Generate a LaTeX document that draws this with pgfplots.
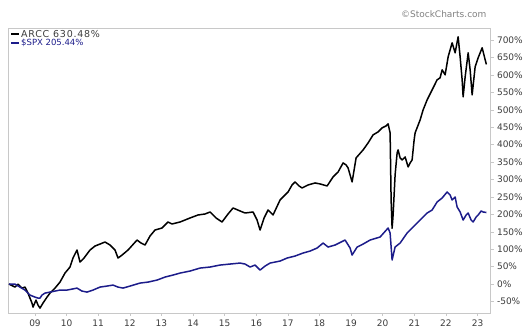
\documentclass[border=0pt]{standalone}
\usepackage{pgfplots}
\pgfplotsset{compat=1.18}
\usepackage{fontspec}
\setmainfont{DejaVu Sans}
\definecolor{spx}{RGB}{28,28,138}
\definecolor{tickgray}{RGB}{60,60,60}
\definecolor{framegray}{RGB}{200,200,200}
\begin{document}
\begin{tikzpicture}[x=1pt,y=1pt]
\path[use as bounding box] (0,0) rectangle (525,331);
\node[anchor=east, text=gray, font=\fontsize{9}{10}\selectfont] at (490,317) {\copyright StockCharts.com};
\begin{axis}[
  at={(8pt,18pt)}, anchor=south west, scale only axis,
  width=482.5pt, height=285pt,
  xmin=2008.146, xmax=2023.41, ymin=-83, ymax=735,
  axis line style={framegray, line width=0.8pt},
  tick style={framegray, line width=0.6pt},
  tick align=outside, major tick length=3pt,
  xtick pos=left, ytick pos=right, yticklabel pos=right,
  xtick={2009,2010,...,2023},
  xticklabels={09,10,11,12,13,14,15,16,17,18,19,20,21,22,23},
  ytick={-50,0,50,100,150,200,250,300,350,400,450,500,550,600,650,700},
  yticklabels={-50\%,0\%,50\%,100\%,150\%,200\%,250\%,300\%,350\%,400\%,450\%,500\%,550\%,600\%,650\%,700\%},
  ticklabel style={font=\fontsize{9}{10}\selectfont, text=tickgray},
  legend style={at={(0,1)}, anchor=north west, xshift=2pt, yshift=-1pt, draw=none, fill=none, inner sep=0pt, row sep=-1.5pt, nodes={inner sep=1pt}},
  legend cell align=left,
  legend image code/.code={\draw[#1, line width=2pt] (0pt,0pt) -- (8pt,0pt);},
  every axis plot/.append style={line join=round},
]
\addplot[black, line width=1.5pt] coordinates {
(2008.177,0) (2008.367,-8.6) (2008.462,0) (2008.589,-11.5) (2008.683,-8.6) (2008.778,-25.9)
(2008.905,-54.6) (2008.937,-66.1) (2009.032,-46.0) (2009.095,-60.3) (2009.158,-69.0) (2009.253,-54.6)
(2009.380,-37.4) (2009.475,-25.9) (2009.633,-11.5) (2009.791,5.7) (2009.949,31.6) (2010.108,48.9)
(2010.202,74.7) (2010.329,97.7) (2010.424,63.2) (2010.551,74.7) (2010.741,97.7) (2010.899,109.2)
(2011.057,114.9) (2011.215,120.7) (2011.373,112.1) (2011.532,97.7) (2011.627,74.7) (2011.753,83.3)
(2011.943,97.7) (2012.228,126.4) (2012.355,117.8) (2012.481,112.1) (2012.639,137.9) (2012.797,155.2)
(2013.019,160.9) (2013.209,178.2) (2013.335,172.4) (2013.589,178.2) (2013.905,189.7) (2014.158,198.3)
(2014.380,201.2) (2014.538,206.9) (2014.728,189.7) (2014.918,178.2) (2015.108,201.2) (2015.266,218.4)
(2015.487,209.8) (2015.646,204.0) (2015.899,206.9) (2016.025,183.9) (2016.120,155.2) (2016.247,189.7)
(2016.373,212.7) (2016.531,198.3) (2016.753,241.4) (2016.911,255.8) (2017.006,264.4) (2017.133,284.5)
(2017.228,293.1) (2017.354,281.6) (2017.449,275.9) (2017.639,284.5) (2017.861,290.2) (2018.019,287.4)
(2018.241,281.6) (2018.430,307.5) (2018.589,321.8) (2018.747,347.7) (2018.842,342.0) (2018.905,333.3)
(2018.968,313.2) (2019.032,293.1) (2019.158,362.1) (2019.380,385.1) (2019.538,405.2) (2019.696,428.2)
(2019.854,436.8) (2019.981,448.3) (2020.108,454.0) (2020.171,459.8) (2020.234,433.9) (2020.266,241.4)
(2020.297,160.0) (2020.329,198.3) (2020.392,313.2) (2020.456,376.4) (2020.487,385.1) (2020.551,362.1)
(2020.614,356.3) (2020.709,364.9) (2020.804,336.2) (2020.867,347.7) (2020.930,356.3) (2020.994,413.8)
(2021.025,433.9) (2021.184,471.3) (2021.278,500.0) (2021.405,528.7) (2021.563,557.5) (2021.721,586.2)
(2021.816,592.0) (2021.880,615.0) (2021.975,600.6) (2022.070,652.3) (2022.196,692.5) (2022.291,663.8)
(2022.386,709.8) (2022.449,652.3) (2022.513,586.2) (2022.544,537.4) (2022.608,594.8) (2022.703,663.8)
(2022.766,615.0) (2022.829,543.1) (2022.924,623.6) (2023.019,649.4) (2023.146,678.2) (2023.241,643.7)
(2023.280,630.5)
};
\addlegendentry{\fontsize{9.5}{10}\selectfont\addfontfeature{LetterSpace=8}\textcolor{tickgray}{ARCC 630.48\%}}
\addplot[spx, line width=1.5pt] coordinates {
(2008.177,0) (2008.367,0) (2008.525,-8.6) (2008.683,-17.2) (2008.778,-25.9) (2008.842,-31.6)
(2009.000,-37.4) (2009.095,-40.2) (2009.158,-40.2) (2009.221,-31.6) (2009.316,-25.9) (2009.475,-23.0)
(2009.633,-20.1) (2009.791,-17.2) (2010.013,-17.2) (2010.171,-14.4) (2010.329,-11.5) (2010.487,-20.1)
(2010.646,-23.0) (2010.835,-17.2) (2011.057,-8.6) (2011.278,-5.7) (2011.468,-2.9) (2011.627,-8.6)
(2011.785,-11.5) (2012.006,-5.7) (2012.323,2.9) (2012.576,5.7) (2012.861,11.5) (2013.114,20.1)
(2013.367,25.9) (2013.589,31.6) (2013.905,37.4) (2014.222,46.0) (2014.538,48.9) (2014.854,54.6)
(2015.171,57.5) (2015.487,60.3) (2015.646,57.5) (2015.804,48.9) (2015.962,54.6) (2016.120,40.2)
(2016.278,51.7) (2016.437,60.3) (2016.753,66.1) (2016.975,74.7) (2017.228,80.5) (2017.481,89.1)
(2017.703,94.8) (2017.924,103.4) (2018.114,117.8) (2018.272,106.3) (2018.494,112.1) (2018.810,126.4)
(2018.968,103.4) (2019.032,83.3) (2019.190,106.3) (2019.380,114.9) (2019.601,126.4) (2019.918,135.1)
(2020.171,160.9) (2020.234,146.6) (2020.297,69.0) (2020.392,106.3) (2020.551,117.8) (2020.772,146.6)
(2021.089,175.3) (2021.405,204.0) (2021.563,212.6) (2021.721,235.6) (2021.880,247.1) (2022.038,264.4)
(2022.133,255.7) (2022.196,241.4) (2022.291,250.0) (2022.354,221.3) (2022.449,206.9) (2022.544,183.9)
(2022.639,198.3) (2022.703,204.0) (2022.797,183.9) (2022.861,178.2) (2022.956,192.5) (2023.019,198.3)
(2023.114,209.8) (2023.177,206.9) (2023.280,205.4)
};
\addlegendentry{\fontsize{8.5}{10}\selectfont\textcolor{spx}{\$SPX 205.44\%}}
\end{axis}
\end{tikzpicture}
\end{document}
